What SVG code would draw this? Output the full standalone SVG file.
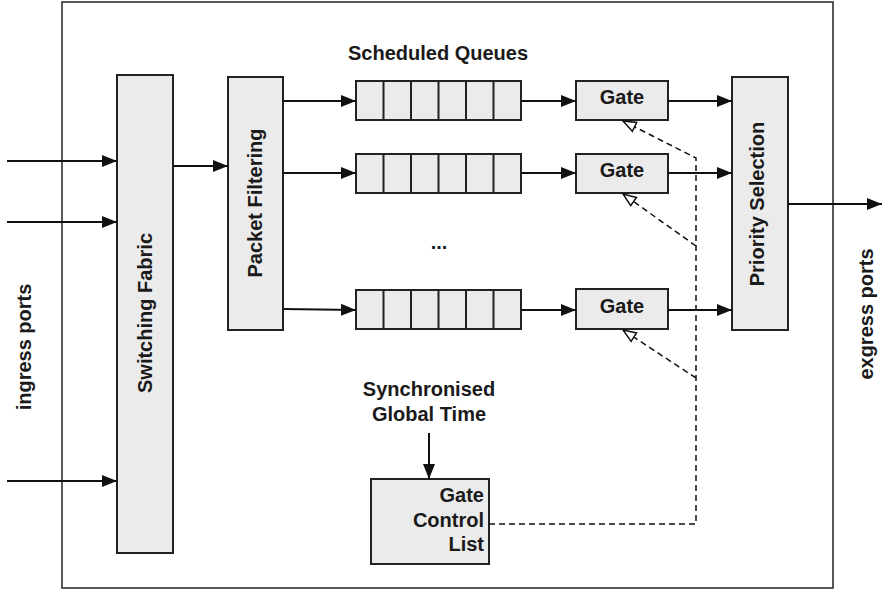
<svg xmlns="http://www.w3.org/2000/svg" width="882" height="590" viewBox="0 0 882 590">
<style>
.box{fill:#ebebeb;stroke:#222;stroke-width:2}
.frame{fill:none;stroke:#222;stroke-width:1.5}
.t{font-family:"Liberation Sans",Arial,sans-serif;font-weight:bold;font-size:20px;fill:#1a1a1a}
.c{text-anchor:middle}
.r{text-anchor:end}
.ln{fill:none;stroke:#111;stroke-width:2}
.ds{fill:none;stroke:#111;stroke-width:1.5;stroke-dasharray:6,4}
.cell{stroke:#222;stroke-width:2}
</style>
<defs>
<marker id="ah" markerUnits="userSpaceOnUse" markerWidth="16" markerHeight="12" refX="15" refY="6" orient="auto">
<path d="M0,0 L15,6 L0,12 Z" fill="#111"/>
</marker>
<marker id="oh" markerUnits="userSpaceOnUse" markerWidth="16" markerHeight="12" refX="14" refY="6" orient="auto">
<path d="M1,1 L14,6 L1,11 Z" fill="#fff" stroke="#111" stroke-width="1.5"/>
</marker>
</defs>
<rect class="frame" x="62" y="2" width="771" height="586"/>
<text class="t c" x="438" y="60">Scheduled Queues</text>
<text class="t c" x="439" y="249">...</text>
<text class="t c" transform="rotate(-90 31 347)" x="31" y="347">ingress ports</text>
<text class="t c" transform="rotate(-90 873 314)" x="873" y="314">exgress ports</text>
<g id="switching-fabric">
<rect class="box" x="117" y="75" width="56" height="478"/>
<text class="t c" transform="rotate(-90 152 313)" x="152" y="313">Switching Fabric</text>
</g>
<g id="packet-filtering">
<rect class="box" x="228" y="77" width="55" height="253"/>
<text class="t c" transform="rotate(-90 262 203)" x="262" y="203">Packet Filtering</text>
</g>
<g id="queue1">
<rect class="box" x="356" y="81" width="165" height="39"/>
<path class="cell" d="M383.5,81V120M411,81V120M438.5,81V120M466,81V120M493.5,81V120"/>
</g>
<g id="queue2">
<rect class="box" x="356" y="154" width="165" height="39"/>
<path class="cell" d="M383.5,154V193M411,154V193M438.5,154V193M466,154V193M493.5,154V193"/>
</g>
<g id="queue3">
<rect class="box" x="356" y="290" width="165" height="39"/>
<path class="cell" d="M383.5,290V329M411,290V329M438.5,290V329M466,290V329M493.5,290V329"/>
</g>
<g id="gate1">
<rect class="box" x="576" y="81" width="92" height="39"/>
<text class="t c" x="622" y="104">Gate</text>
</g>
<g id="gate2">
<rect class="box" x="576" y="154" width="92" height="39"/>
<text class="t c" x="622" y="177">Gate</text>
</g>
<g id="gate3">
<rect class="box" x="576" y="289" width="92" height="40"/>
<text class="t c" x="622" y="313">Gate</text>
</g>
<g id="priority-selection">
<rect class="box" x="732" y="77" width="56" height="253"/>
<text class="t c" transform="rotate(-90 764 204)" x="764" y="204">Priority Selection</text>
</g>
<g id="sync-time">
<text class="t c" x="429" y="396">Synchronised</text>
<text class="t c" x="429" y="421">Global Time</text>
</g>
<g id="gate-control-list">
<rect class="box" x="371" y="479" width="118" height="85"/>
<text class="t r" x="484" y="502">Gate</text>
<text class="t r" x="484" y="527">Control</text>
<text class="t r" x="484" y="551">List</text>
</g>
<g id="connectors">
<path class="ln" marker-end="url(#ah)" d="M7,161H117"/>
<path class="ln" marker-end="url(#ah)" d="M7,222H117"/>
<path class="ln" marker-end="url(#ah)" d="M7,481H117"/>
<path class="ln" marker-end="url(#ah)" d="M173,166H228"/>
<path class="ln" marker-end="url(#ah)" d="M283,101H356"/>
<path class="ln" marker-end="url(#ah)" d="M283,173H356"/>
<path class="ln" marker-end="url(#ah)" d="M283,309L356,310"/>
<path class="ln" marker-end="url(#ah)" d="M521,101H576"/>
<path class="ln" marker-end="url(#ah)" d="M521,173H576"/>
<path class="ln" marker-end="url(#ah)" d="M521,310H576"/>
<path class="ln" marker-end="url(#ah)" d="M668,101H732"/>
<path class="ln" marker-end="url(#ah)" d="M668,173H732"/>
<path class="ln" marker-end="url(#ah)" d="M668,310H732"/>
<path class="ln" marker-end="url(#ah)" d="M788,204H882"/>
<path class="ln" marker-end="url(#ah)" d="M429,433V479"/>
<path class="ds" marker-end="url(#oh)" d="M489,524H696V158L623,121"/>
<path class="ds" marker-end="url(#oh)" d="M696,246L623,194"/>
<path class="ds" marker-end="url(#oh)" d="M696,378L623,330"/>
</g>
</svg>
